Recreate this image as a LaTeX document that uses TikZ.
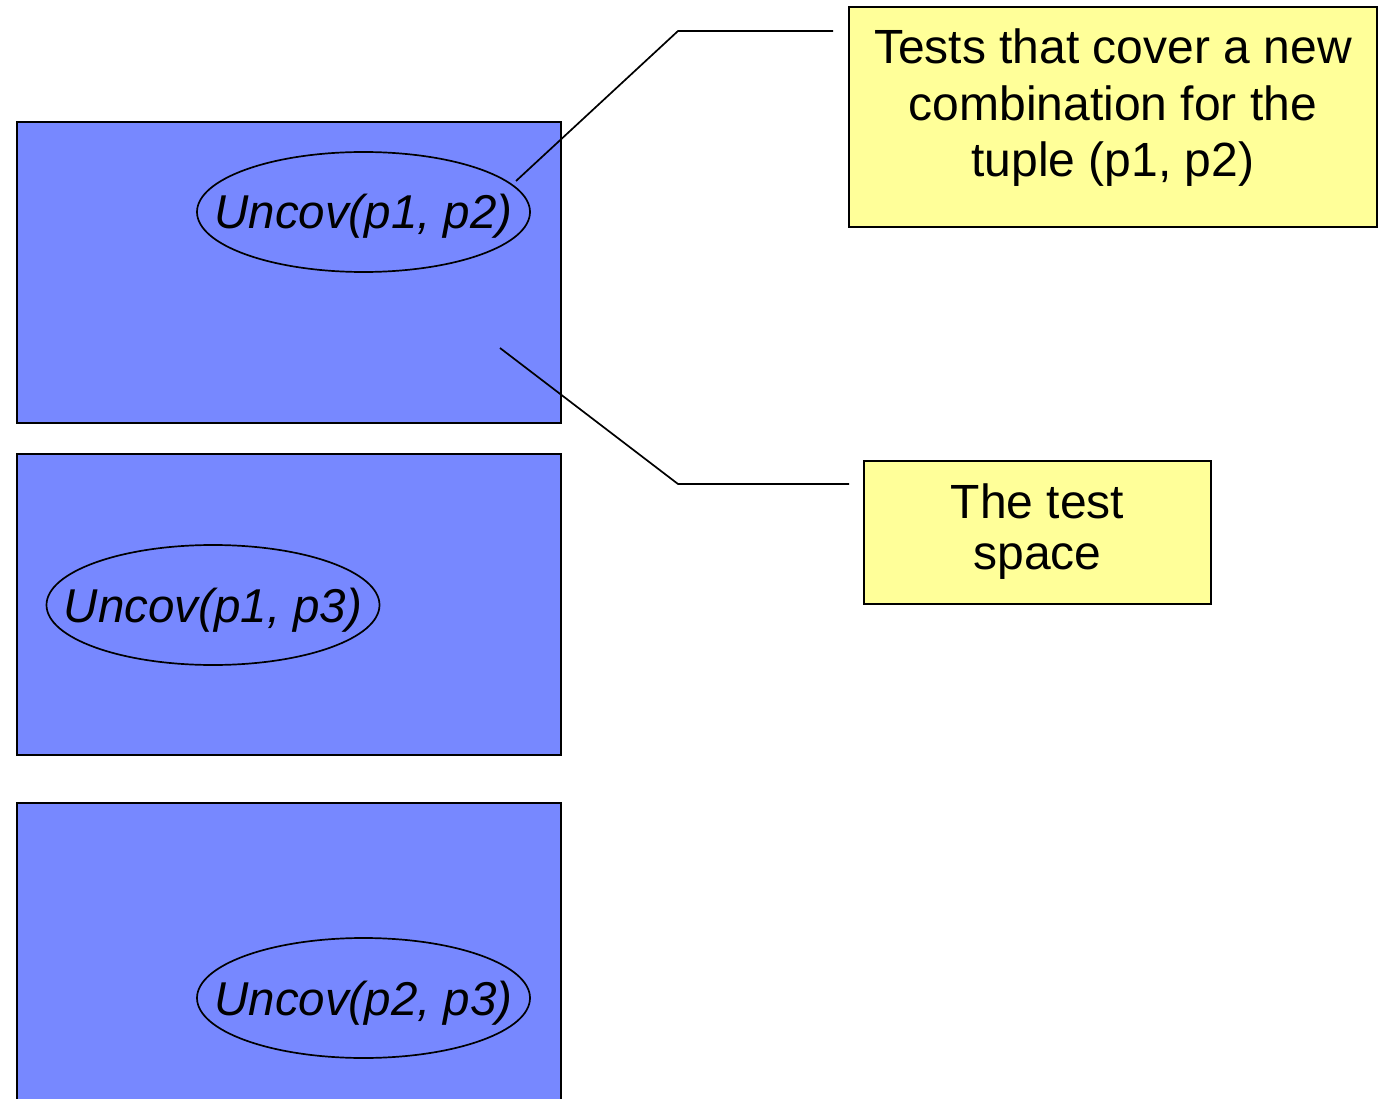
\documentclass[tikz,border=0pt]{standalone}
\usepackage{fontspec}
\setmainfont{Liberation Sans}
\usetikzlibrary{shapes.geometric}
\definecolor{spaceblue}{HTML}{7788FF}
\definecolor{noteyellow}{HTML}{FFFF99}
\begin{document}
\begin{tikzpicture}[x=1pt,y=-1pt,
  spacebox/.style={draw=black, line width=1.7pt, fill=spaceblue, rectangle, inner sep=0pt,
    minimum width=544pt, minimum height=301pt},
  uncov/.style={draw=black, line width=1.7pt, ellipse, inner ysep=0pt, inner xsep=-32pt,
    minimum width=333pt, minimum height=120pt,
    font=\fontsize{47.5}{56}\selectfont\itshape, text height=34pt, text depth=0pt},
  note/.style={draw=black, line width=1.7pt, fill=noteyellow, rectangle, inner sep=0pt, align=center},
  callout/.style={draw=black, line width=1.7pt}]
\clip (0,0) rectangle (1379,1099);
\fill[white] (0,0) rectangle (1379,1099);
% test space rectangles
\node[spacebox] (r1) at (289,272.5) {};
\node[spacebox] (r2) at (289,604.5) {};
\node[spacebox, minimum height=320pt, anchor=north] (r3) at (289,802) {};
% uncovered ellipses
\node[uncov] (e1) at (363.5,212) {Uncov(p1, p2)};
\node[uncov] (e2) at (213,605) {Uncov(p1, p3)};
\node[uncov] (e3) at (363.5,998) {Uncov(p2, p3)};
% notes
\node[note, minimum width=528pt, minimum height=220pt,
  font=\fontsize{48}{56.5}\selectfont, text height=130pt, text depth=10pt]
  (n1) at (1113,117) {Tests that cover a new\\combination for the\\tuple (p1, p2)};
\node[note, minimum width=347pt, minimum height=143pt,
  font=\fontsize{48}{51}\selectfont, text height=83pt, text depth=10pt]
  (n2) at (1037.5,532.5) {The test\\space};
% callout connectors
\coordinate (c1s) at (516,181);
\coordinate (c1k) at (678,31);
\coordinate (c1e) at (833,31);
\draw[callout] (c1s) -- (c1k) -- (c1e);
\coordinate (c2s) at (500,348);
\coordinate (c2k) at (678,484);
\coordinate (c2e) at (849,484);
\draw[callout] (c2s) -- (c2k) -- (c2e);
\end{tikzpicture}
\end{document}
